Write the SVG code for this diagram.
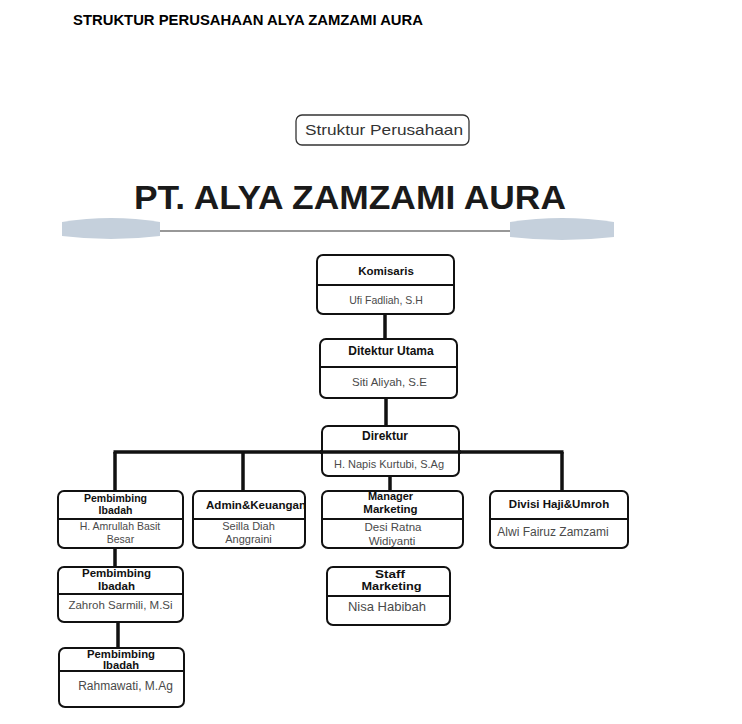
<svg xmlns="http://www.w3.org/2000/svg" width="742" height="724" viewBox="0 0 742 724">
<style>
.box{fill:#fff;stroke:#111;stroke-width:2}
.div{stroke:#111;stroke-width:2}
.hd{font-family:"Liberation Sans",Arial,sans-serif;font-weight:bold;font-size:12px;fill:#111;text-anchor:middle}
.hs{font-family:"Liberation Sans",Arial,sans-serif;font-weight:bold;font-size:10.5px;fill:#111;text-anchor:middle}
.nm{font-family:"Liberation Sans",Arial,sans-serif;font-size:11px;fill:#4a4a4a;text-anchor:middle}
.conn{stroke:#111;stroke-width:3.5;fill:none}
</style>
<rect width="742" height="724" fill="#fff"/>
<text x="73" y="25" font-family="'Liberation Sans',Arial,sans-serif" font-weight="bold" font-size="14" fill="#000" textLength="350" lengthAdjust="spacingAndGlyphs">STRUKTUR PERUSAHAAN ALYA ZAMZAMI AURA</text>

<g id="header">
<rect x="296" y="115" width="173" height="30" rx="6" fill="#fff" stroke="#333" stroke-width="1.3"/>
<text x="384" y="135" font-family="'Liberation Sans',Arial,sans-serif" font-size="15" fill="#333" text-anchor="middle" textLength="158" lengthAdjust="spacingAndGlyphs">Struktur Perusahaan</text>
<text x="350" y="209" font-family="'Liberation Sans',Arial,sans-serif" font-weight="bold" font-size="34" fill="#1a1a1a" text-anchor="middle" textLength="432" lengthAdjust="spacingAndGlyphs">PT. ALYA ZAMZAMI AURA</text>
<path d="M62,222 Q111,214 160,222 L160,236 Q111,242 62,236 Z" fill="#c5d0dc"/>
<path d="M510,222 Q562,214 614,222 L614,237 Q562,243 510,237 Z" fill="#c5d0dc"/>
<line x1="160" y1="231" x2="510" y2="231" stroke="#333" stroke-width="1.2"/>
</g>

<g id="connectors">
<line class="conn" x1="385" y1="314" x2="385" y2="339"/>
<line class="conn" x1="386" y1="398" x2="386" y2="425"/>
<line class="conn" x1="113.5" y1="452" x2="563.5" y2="452"/>
<line class="conn" x1="115" y1="452" x2="115" y2="491"/>
<line class="conn" x1="243" y1="452" x2="243" y2="491"/>
<line class="conn" x1="562" y1="452" x2="562" y2="491"/>
<line class="conn" x1="390" y1="476" x2="390" y2="491"/>
<line class="conn" x1="115" y1="548" x2="115" y2="567"/>
<line class="conn" x1="118" y1="622" x2="118" y2="648"/>
</g>

<g id="komisaris">
<rect class="box" x="317" y="255" width="137" height="59" rx="6"/>
<line class="div" x1="317" y1="285" x2="454" y2="285"/>
<text class="hd" x="386" y="275" style="font-size:11.5px">Komisaris</text>
<text class="nm" x="386" y="304" style="font-size:10.5px">Ufi Fadliah, S.H</text>
</g>

<g id="ditektur-utama">
<rect class="box" x="320" y="339" width="137" height="59" rx="6"/>
<line class="div" x1="320" y1="367" x2="457" y2="367"/>
<text class="hd" x="391" y="355">Ditektur Utama</text>
<text class="nm" x="389.5" y="386" style="font-size:11.5px">Siti Aliyah, S.E</text>
</g>

<g id="direktur">
<rect class="box" x="322" y="426" width="137" height="50" rx="6"/>
<text class="hd" x="385" y="440">Direktur</text>
<text class="nm" x="389" y="468">H. Napis Kurtubi, S.Ag</text>
</g>
<line class="conn" x1="320" y1="452" x2="461" y2="452"/>

<g id="pembimbing-1">
<rect class="box" x="58" y="491" width="125" height="57" rx="6"/>
<line class="div" x1="58" y1="519" x2="183" y2="519"/>
<text class="hs" x="115.5" y="502">Pembimbing</text>
<text class="hs" x="115.5" y="514">Ibadah</text>
<text class="nm" x="120" y="530" style="font-size:10.5px">H. Amrullah Basit</text>
<text class="nm" x="120.5" y="543" style="font-size:10.5px">Besar</text>
</g>

<g id="admin">
<rect class="box" x="193" y="491" width="112" height="57" rx="6"/>
<line class="div" x1="193" y1="519" x2="305" y2="519"/>
<text x="206" y="509" font-family="'Liberation Sans',Arial,sans-serif" font-weight="bold" font-size="11" fill="#111" textLength="100" lengthAdjust="spacingAndGlyphs">Admin&amp;Keuangan</text>
<text class="nm" x="248.5" y="530">Seilla Diah</text>
<text class="nm" x="248.5" y="543">Anggraini</text>
</g>

<g id="manager-marketing">
<rect class="box" x="322" y="491" width="141" height="57" rx="6"/>
<line class="div" x1="322" y1="519" x2="463" y2="519"/>
<text class="hd" x="390.5" y="500" style="font-size:11px">Manager</text>
<text class="hd" x="390.5" y="513" style="font-size:11.5px">Marketing</text>
<text class="nm" x="393" y="531" style="font-size:11.5px">Desi Ratna</text>
<text class="nm" x="392" y="545" style="font-size:11.5px">Widiyanti</text>
</g>

<g id="divisi-haji">
<rect class="box" x="490" y="491" width="138" height="57" rx="6"/>
<line class="div" x1="490" y1="519" x2="628" y2="519"/>
<text class="hd" x="559" y="508" style="font-size:11.5px">Divisi Haji&amp;Umroh</text>
<text class="nm" x="553" y="536" style="font-size:12px">Alwi Fairuz Zamzami</text>
</g>

<g id="pembimbing-2">
<rect class="box" x="58" y="567" width="125" height="55" rx="6"/>
<line class="div" x1="58" y1="594" x2="183" y2="594"/>
<text class="hd" x="116.5" y="577" style="font-size:11.5px">Pembimbing</text>
<text class="hd" x="116.5" y="590" style="font-size:11.5px">Ibadah</text>
<text class="nm" x="120.5" y="609" style="font-size:11.5px">Zahroh Sarmili, M.Si</text>
</g>

<g id="staff-marketing">
<rect class="box" x="327" y="567" width="123" height="58" rx="6"/>
<line class="div" x1="327" y1="596" x2="450" y2="596"/>
<text class="hs" x="390" y="578" textLength="30" lengthAdjust="spacingAndGlyphs">Staff</text>
<text class="hs" x="391.5" y="590" textLength="60" lengthAdjust="spacingAndGlyphs">Marketing</text>
<text class="nm" x="387" y="611" style="font-size:13px">Nisa Habibah</text>
</g>

<g id="pembimbing-3">
<rect class="box" x="59" y="648" width="125" height="59" rx="6"/>
<line class="div" x1="59" y1="671" x2="184" y2="671"/>
<text class="hs" x="121" y="658" textLength="68" lengthAdjust="spacingAndGlyphs">Pembimbing</text>
<text class="hs" x="121" y="669" textLength="36" lengthAdjust="spacingAndGlyphs">Ibadah</text>
<text class="nm" x="125.5" y="690" style="font-size:12px">Rahmawati, M.Ag</text>
</g>
</svg>
